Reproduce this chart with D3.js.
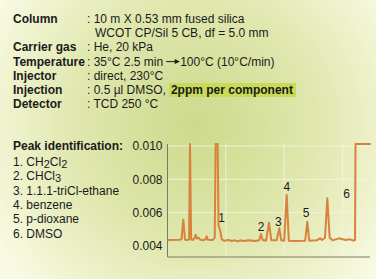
<!DOCTYPE html>
<html lang="en">
<head>
	<meta charset="UTF-8">
	<title>GC chromatogram</title>
	<style>
		body { margin: 0; overflow: hidden; }
		svg { display: block; font-family: "Liberation Sans", Arial, sans-serif; }
		.grid line { stroke: #f4f7dc; stroke-width: 1; opacity: 0.85; }
		.axis-line { stroke: #7a7a6a; stroke-width: 1; }
		.trace { fill: none; stroke: #d9823d; stroke-width: 2; stroke-linejoin: round; }
	</style>
	<script src="https://d3js.org/d3.v7.min.js"></script>
</head>
<body>
	<script>
		// conditions table
		const condLabels = ["Column", "", "Carrier gas", "Temperature", "Injector", "Injection", "Detector"];
		const condValues = [": 10 m X 0.53 mm fused silica", "WCOT CP/Sil 5 CB, df = 5.0 mm", ": He, 20 kPa",
			": 35°C 2.5 min", ": direct, 230°C", ": 0.5 \u00b5l DMSO,", ": TCD 250 °C"];
		const afterArrow = "100°C (10°C/min)";
		const highlightText = "2ppm per component";

		// peak list (name parts: [text, isSubscript])
		const peakNames = [
			[["1. CH", 0], ["2", 1], ["Cl", 0], ["2", 1]],
			[["2. CHCl", 0], ["3", 1]],
			[["3. 1.1.1-triCl-ethane", 0]],
			[["4. benzene", 0]],
			[["5. p-dioxane", 0]],
			[["6. DMSO", 0]]
		];

		// chromatogram
		const yTicks = [0.004, 0.006, 0.008, 0.010];
		const xGrid = [1, 2, 3];
		const times = [0.00, 0.20, 0.24, 0.27, 0.30, 0.35, 0.37, 0.386, 0.405, 0.43, 0.46, 0.483, 0.50, 0.53, 0.56,
			0.62, 0.65, 0.672, 0.69, 0.78, 0.81, 0.825, 0.86, 0.875, 0.90, 0.93, 0.97, 1.05, 1.10, 1.15, 1.20,
			1.25, 1.30, 1.40, 1.50, 1.57, 1.603, 1.63, 1.69, 1.74, 1.78, 1.87, 1.917, 1.95, 2.00, 2.043, 2.08,
			2.20, 2.36, 2.397, 2.43, 2.56, 2.614, 2.65, 2.70, 2.74, 2.78, 2.83, 2.94, 3.05, 3.13, 3.19, 3.215,
			3.223, 3.483];
		const signal = [0.00436, 0.00438, 0.00440, 0.00558, 0.00438, 0.00436, 0.00440, 0.01012, 0.00440, 0.00436,
			0.00445, 0.00468, 0.00445, 0.00450, 0.00438, 0.00436, 0.00440, 0.00458, 0.00437, 0.00436, 0.00450,
			0.01012, 0.01012, 0.00520, 0.00498, 0.00440, 0.00432, 0.00436, 0.00430, 0.00434, 0.00428, 0.00434,
			0.00430, 0.00434, 0.00430, 0.00434, 0.00472, 0.00436, 0.00432, 0.00540, 0.00434, 0.00434, 0.00506,
			0.00434, 0.00432, 0.00706, 0.00432, 0.00430, 0.00432, 0.00546, 0.00432, 0.00434, 0.00446, 0.00436,
			0.00450, 0.00686, 0.00450, 0.00434, 0.00446, 0.00436, 0.00440, 0.00432, 0.00436, 0.01012, 0.01012];
		const peakTags = ["1", "2", "3", "4", "5", "6"];
		const tagTimes = [0.929, 1.603, 1.90, 2.044, 2.374, 3.072];
		const tagValues = [0.00568, 0.00516, 0.00546, 0.00756, 0.00598, 0.00712];

		const W = 376, H = 279;
		const svg = d3.select("body").append("svg")
			.attr("width", W).attr("height", H);

		// background glow
		const defs = svg.append("defs");
		const grad = defs.append("radialGradient").attr("id", "bg")
			.attr("gradientUnits", "userSpaceOnUse")
			.attr("cx", 195).attr("cy", 125).attr("r", 230);
		grad.append("stop").attr("offset", "0%").attr("stop-color", "#ccda8c");
		grad.append("stop").attr("offset", "55%").attr("stop-color", "#e1e8b0");
		grad.append("stop").attr("offset", "100%").attr("stop-color", "#f8fae2");
		svg.append("rect").attr("width", W).attr("height", H).attr("fill", "url(#bg)");

		defs.append("marker").attr("id", "head")
			.attr("viewBox", "0 0 10 10").attr("refX", 9).attr("refY", 5)
			.attr("markerWidth", 6).attr("markerHeight", 5).attr("markerUnits", "userSpaceOnUse")
			.attr("orient", "auto")
			.append("path").attr("d", "M0,0L10,5L0,10z").attr("fill", "#1a1a1a");

		// conditions
		const cond = svg.append("g").attr("font-size", 12).attr("fill", "#1a1a1a");
		condLabels.forEach(function (lab, i) {
			const y = 23 + i * 14.2;
			if (lab) cond.append("text").attr("x", 13).attr("y", y).attr("font-weight", "bold").text(lab);
			const v = cond.append("text").attr("x", i === 1 ? 95 : 87).attr("y", y).text(condValues[i]);
			const x0 = 87 + v.node().getComputedTextLength();
			if (i === 3) {
				// the space before the arrow
				cond.append("line").attr("x1", x0 + 3).attr("x2", x0 + 16)
					.attr("y1", y - 4).attr("y2", y - 4)
					.attr("stroke", "#1a1a1a").attr("stroke-width", 1)
					.attr("marker-end", "url(#head)");
				cond.append("text").attr("x", x0 + 17).attr("y", y).text(afterArrow);
			}
			if (i === 5) {
				const hl = cond.append("text").attr("x", x0 + 5).attr("y", y)
					.attr("font-weight", "bold").text(highlightText);
				const w = hl.node().getComputedTextLength();
				cond.insert("rect", "text").attr("x", x0 + 3).attr("y", y - 11)
					.attr("width", w + 5).attr("height", 14).attr("fill", "#c9da58");
			}
		});

		// peak identification
		const ids = svg.append("g").attr("font-size", 12).attr("fill", "#1a1a1a");
		ids.append("text").attr("x", 13).attr("y", 150).attr("font-weight", "bold").text("Peak identification:");
		peakNames.forEach(function (parts, i) {
			const t = ids.append("text").attr("x", 13).attr("y", 166 + i * 14.3);
			let low = false;
			parts.forEach(function (p) {
				const s = t.append("tspan").text(p[0]);
				if (p[1]) s.attr("font-size", 11);
				if (p[1] && !low) { s.attr("dy", 2); low = true; }
				else if (!p[1] && low) { s.attr("dy", -2); low = false; }
			});
		});

		// chart
		const x = d3.scaleLinear().domain([0, 3.48]).range([167.5, 370.5]);
		const y = d3.scaleLinear().domain([0.00334, 0.01018]).range([257, 143]);

		const grid = svg.append("g").attr("class", "grid");
		grid.selectAll(".h").data(yTicks.filter(function (d) { return d > 0.005; })).enter().append("line")
			.attr("x1", x(0)).attr("x2", 369)
			.attr("y1", function (d) { return y(d); }).attr("y2", function (d) { return y(d); });
		grid.selectAll(".v").data(xGrid).enter().append("line")
			.attr("x1", function (d) { return x(d); }).attr("x2", function (d) { return x(d); })
			.attr("y1", y(0.01018)).attr("y2", y(0.00334));

		const yAxis = svg.append("g").attr("transform", "translate(" + x(0) + ",0)")
			.call(d3.axisLeft(y).tickValues(yTicks).tickFormat(d3.format(".3f")).tickSize(0).tickPadding(5));
		yAxis.select(".domain").remove();
		yAxis.selectAll("text").attr("font-size", 12).attr("fill", "#1a1a1a")
			.attr("font-family", "'Liberation Sans', Arial, sans-serif");

		svg.append("line").attr("class", "axis-line")
			.attr("x1", x(0)).attr("x2", x(0)).attr("y1", 144).attr("y2", 257);
		svg.append("line").attr("class", "axis-line")
			.attr("x1", x(0)).attr("x2", 370).attr("y1", 257).attr("y2", 257);

		const line = d3.line()
			.x(function (d, i) { return x(times[i]); })
			.y(function (d) { return y(d); });
		svg.append("path").attr("class", "trace").attr("d", line(signal));

		svg.append("g").attr("font-size", 12).attr("fill", "#1a1a1a")
			.selectAll("text").data(peakTags).enter().append("text")
			.attr("x", function (d, i) { return x(tagTimes[i]); })
			.attr("y", function (d, i) { return y(tagValues[i]); })
			.attr("text-anchor", "middle").attr("dominant-baseline", "central")
			.text(function (d) { return d; });
	</script>
</body>
</html>
